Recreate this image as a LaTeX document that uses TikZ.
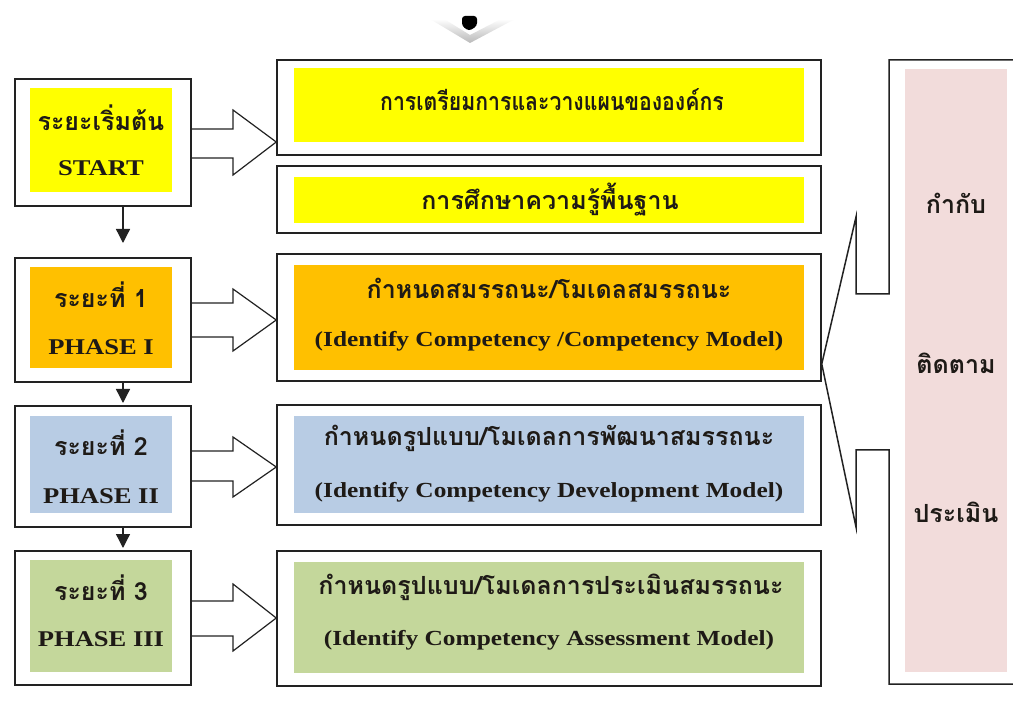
\documentclass[tikz,border=0pt]{standalone}
\usepackage{fontspec}
\setmainfont{Liberation Serif}
\newfontfamily\thai[Script=Thai]{Loma}
\newfontfamily\wideserif[FakeStretch=1.18]{Liberation Serif}
\usetikzlibrary{arrows.meta}
\definecolor{cyel}{HTML}{FFFF00}
\definecolor{corg}{HTML}{FFC000}
\definecolor{cblu}{HTML}{B8CCE4}
\definecolor{cgrn}{HTML}{C4D79B}
\definecolor{cpnk}{HTML}{F2DCDB}
\definecolor{cline}{HTML}{222222}
\definecolor{ctxt}{HTML}{1E1A16}
\tikzset{
 frame/.style={draw=cline, line width=1.5pt, inner sep=0pt},
 panel/.style={inner sep=0pt, draw=none},
 thtxt/.style={font=\thai\bfseries\fontsize{25}{28}\selectfont, text=ctxt, inner sep=0pt},
 entxt/.style={font=\wideserif\bfseries\fontsize{21.5}{24}\selectfont, text=ctxt, inner sep=0pt},
 lentxt/.style={font=\wideserif\bfseries\fontsize{22.5}{24}\selectfont, text=ctxt, inner sep=0pt},
 blockarrow/.style={draw=cline, line width=1.2pt, line join=miter},
 downarrow/.style={draw=cline, line width=1.3pt, -{Triangle[width=14pt,length=14pt]}},
}
\begin{document}
\begin{tikzpicture}[x=1pt,y=-1pt]
\fill[white] (0,0) rectangle (1013,711);
\useasboundingbox (0,0) rectangle (1013,711);

% top chevron
\shade[top color=white, bottom color=gray!55] (430,19) -- (470,43) -- (515,19) -- (501,19) -- (470,35) -- (444,19) -- cycle;
\fill[black, rounded corners=3pt] (462,16) -- (462,26) -- (469,31) -- (477,26) -- (477,16) -- cycle;

% left frames
\node[frame, minimum width=176, minimum height=127] (S) at (103,142.5) {};
\node[frame, minimum width=176, minimum height=124] (P1) at (103,320) {};
\node[frame, minimum width=176, minimum height=121] (P2) at (103,466.5) {};
\node[frame, minimum width=176, minimum height=134] (P3) at (103,618) {};
% left fills
\node[panel, fill=cyel, minimum width=142, minimum height=104] (Sf) at (101,140) {};
\node[panel, fill=corg, minimum width=142, minimum height=101] (P1f) at (101,317.5) {};
\node[panel, fill=cblu, minimum width=142, minimum height=97] (P2f) at (101,464.5) {};
\node[panel, fill=cgrn, minimum width=142, minimum height=112] (P3f) at (101,616) {};
% left texts
\node[thtxt] (St1) at (101,118) {ระยะเริ่มต้น};
\node[lentxt] (St2) at (101,168) {START};
\node[thtxt] (P1t1) at (101,295) {ระยะที่ 1};
\node[lentxt] (P1t2) at (101,347) {PHASE I};
\node[thtxt] (P2t1) at (101,443) {ระยะที่ 2};
\node[lentxt] (P2t2) at (101,496) {PHASE II};
\node[thtxt] (P3t1) at (101,588) {ระยะที่ 3};
\node[lentxt] (P3t2) at (101,639) {PHASE III};

% right frames
\node[frame, minimum width=544, minimum height=95] (R1) at (549,107.5) {};
\node[frame, minimum width=544, minimum height=67] (R2) at (549,199.5) {};
\node[frame, minimum width=544, minimum height=127] (R3) at (549,317.5) {};
\node[frame, minimum width=544, minimum height=120] (R4) at (549,465) {};
\node[frame, minimum width=544, minimum height=135] (R5) at (549,618.5) {};
% right fills
\node[panel, fill=cyel, minimum width=510, minimum height=74] (R1f) at (549,105) {};
\node[panel, fill=cyel, minimum width=510, minimum height=46] (R2f) at (549,200) {};
\node[panel, fill=corg, minimum width=510, minimum height=105] (R3f) at (549,317.5) {};
\node[panel, fill=cblu, minimum width=510, minimum height=97] (R4f) at (549,464.5) {};
\node[panel, fill=cgrn, minimum width=510, minimum height=111] (R5f) at (549,617.5) {};
% right texts
\node[thtxt] (R1t) at (552,100) {\scalebox{0.85}[1]{การเตรียมการและวางแผนขององค์กร}};
\node[thtxt] (R2t) at (550,200) {การศึกษาความรู้พื้นฐาน};
\node[thtxt] (R3t1) at (549,288) {กำหนดสมรรถนะ/โมเดลสมรรถนะ};
\node[entxt] (R3t2) at (549,341) {(Identify Competency /Competency Model)};
\node[thtxt] (R4t1) at (549,438) {กำหนดรูปแบบ/โมเดลการพัฒนาสมรรถนะ};
\node[entxt] (R4t2) at (549,492) {(Identify Competency Development Model)};
\node[thtxt] (R5t1) at (551,587) {กำหนดรูปแบบ/โมเดลการประเมินสมรรถนะ};
\node[entxt] (R5t2) at (549,640) {(Identify Competency Assessment Model)};

% block arrows
\draw[blockarrow] (S.east |- 0,129) -- (233,129) -- (233,110) -- (R1.west |- 0,142) -- (233,175) -- (233,158) -- (S.east |- 0,158);
\draw[blockarrow] (P1.east |- 0,303) -- (233,303) -- (233,289) -- (R3.west |- 0,320) -- (233,351) -- (233,337) -- (P1.east |- 0,337);
\draw[blockarrow] (P2.east |- 0,451) -- (233,451) -- (233,437) -- (R4.west |- 0,467) -- (233,497) -- (233,481) -- (P2.east |- 0,481);
\draw[blockarrow] (P3.east |- 0,601) -- (233,601) -- (233,584) -- (R5.west |- 0,618) -- (233,651) -- (233,636) -- (P3.east |- 0,636);

% down arrows
\coordinate (d1) at (123,243);
\coordinate (d2) at (123,403);
\coordinate (d3) at (123,548);
\draw[downarrow] (S.south -| d1) -- (d1);
\draw[downarrow] (P1.south -| d2) -- (d2);
\draw[downarrow] (P2.south -| d3) -- (d3);

% right callout
\node[panel, fill=cpnk, minimum width=102, minimum height=603] (PK) at (956,370.5) {};
\coordinate (cp) at (R3.east |- 0,364);
\draw[blockarrow, line width=1.5pt] (1016,60) -- (889,60) -- (889,294) -- (856,294) -- (856,217) -- (cp) -- (856,527) -- (856,450) -- (889,450) -- (889,684) -- (1016,684);
\node[thtxt] (K1) at (PK.center |- 0,203) {กำกับ};
\node[thtxt] (K2) at (PK.center |- 0,363) {ติดตาม};
\node[thtxt] (K3) at (PK.center |- 0,512) {ประเมิน};
\end{tikzpicture}
\end{document}
